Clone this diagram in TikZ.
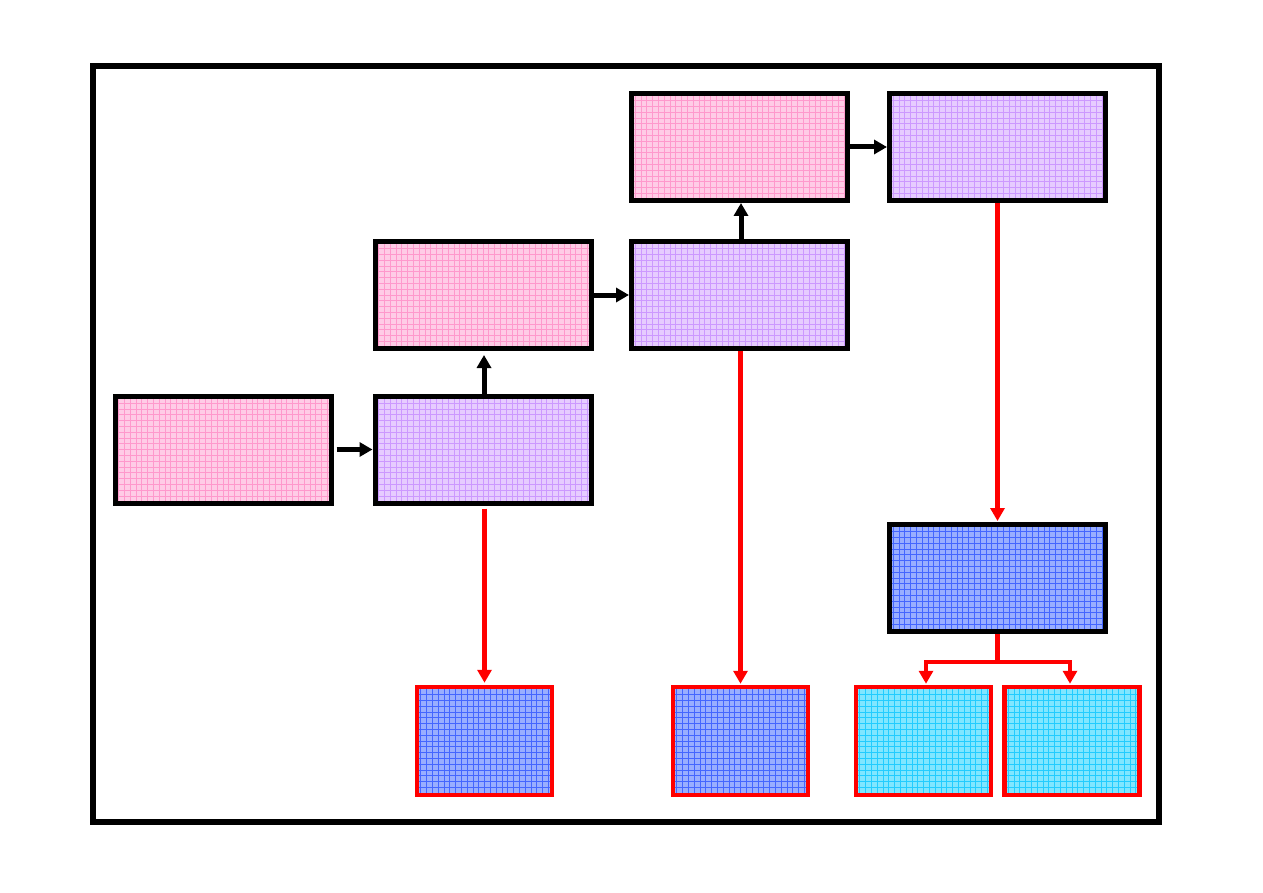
\documentclass[tikz,border=0pt]{standalone}
\usetikzlibrary{arrows.meta}
\definecolor{pinkF}{HTML}{FFCCE6}
\definecolor{pinkG}{HTML}{FF99CC}
\definecolor{purF}{HTML}{E6CCFF}
\definecolor{purG}{HTML}{CC99FF}
\definecolor{bluF}{HTML}{99AEFF}
\definecolor{bluG}{HTML}{4466FF}
\definecolor{cyaF}{HTML}{80E6FF}
\definecolor{cyaG}{HTML}{22CCFF}
\definecolor{redL}{HTML}{FF0000}
\tikzset{
  bigbox/.style={draw=black, line width=5pt, rectangle, inner sep=0pt, minimum width=216pt, minimum height=107pt},
  smallbox/.style={draw=redL, line width=4.5pt, rectangle, inner sep=0pt, minimum width=135pt, minimum height=108pt},
  gridfill/.style 2 args={fill=#1, path picture={\draw[#2, line width=0.7pt, step=5.8pt] (path picture bounding box.south west) grid (path picture bounding box.north east);}},
  pinkbox/.style={bigbox, gridfill={pinkF}{pinkG}},
  purbox/.style={bigbox, gridfill={purF}{purG}},
  blubig/.style={bigbox, gridfill={bluF}{bluG}},
  blusmall/.style={smallbox, gridfill={bluF}{bluG}},
  cyasmall/.style={smallbox, gridfill={cyaF}{cyaG}},
  blk/.style={draw=black, line width=5pt, -{Triangle[length=13pt,width=14pt]}},
  redarr/.style={draw=redL, line width=4.5pt, -{Triangle[length=13pt,width=14pt]}},
}
\begin{document}
\begin{tikzpicture}[x=1pt,y=1pt]
\useasboundingbox (0,0) rectangle (1263,-893);
\node[draw=black, line width=6pt, rectangle, inner sep=0pt, minimum width=1066pt, minimum height=756pt] (frame) at (626,-444) {};
\node[pinkbox] (A) at (223,-449.5) {};
\node[purbox]  (B) at (483,-449.5) {};
\node[pinkbox] (C) at (483,-295) {};
\node[purbox]  (D) at (739.5,-295) {};
\node[pinkbox] (E) at (739.5,-147) {};
\node[purbox]  (F) at (997.5,-147) {};
\node[blubig]  (G) at (997.5,-578) {};
\node[blusmall] (H) at (484.5,-741) {};
\node[blusmall] (I) at (740.5,-741) {};
\node[cyasmall] (J) at (923.5,-741) {};
\node[cyasmall] (K) at (1072,-741) {};
% black connectors
\draw[blk, shorten <=3pt] (A.east) -- (B.west);
\draw[blk, shorten >=4pt] ([xshift=1pt]B.north) -- ([xshift=1pt]C.south);
\draw[blk] (C.east) -- (D.west);
\draw[blk] ([xshift=1.5pt]D.north) -- ([xshift=1.5pt]E.south);
\draw[blk] (E.east) -- (F.west);
% red connectors
\draw[redarr, shorten <=3pt, shorten >=2pt] (B.south -| H.north) -- (H.north);
\draw[redarr, shorten >=1pt] (D.south -| I.north) -- (I.north);
\draw[redarr, shorten >=1pt] (F.south) -- (G.north);
\draw[draw=redL, line width=4.5pt] (G.south) -- ++(0,-28) coordinate (split);
\draw[redarr, shorten >=1pt] (split) -| ([xshift=2.5pt]J.north);
\draw[redarr, shorten >=1pt] (split) -| ([xshift=-2pt]K.north);
\end{tikzpicture}
\end{document}
